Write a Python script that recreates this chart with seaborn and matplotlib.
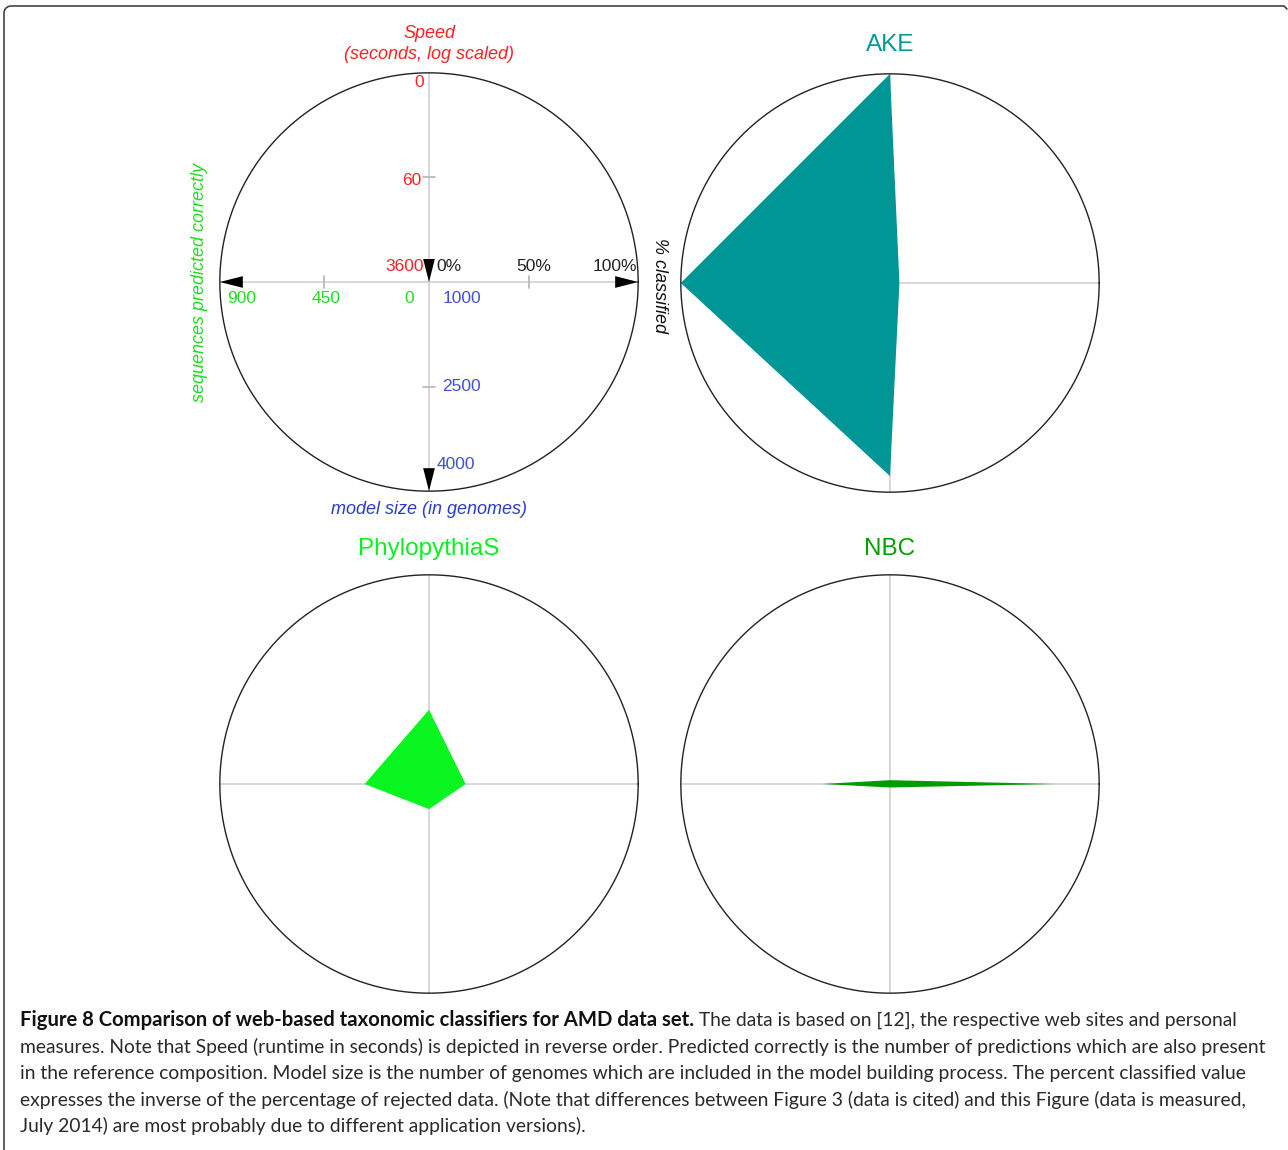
import numpy as np
import matplotlib
matplotlib.use('Agg')
import matplotlib.pyplot as plt
import seaborn as sns

# Werte
classifiers = ['AKE', 'PhylopythiaS', 'NBC']
speed_sec = [1, 197, 3100]            # Laufzeit in Sekunden (log, umgekehrt)
predicted_correct = [900, 277, 293]   # korrekt vorhergesagte Sequenzen
pct_classified = [4.5, 17.5, 79]      # % klassifiziert
model_size = [3770, 1360, 1050]       # Modellgroesse (Genome)

title_colors = ['#009999', '#0cf020', '#00a000']
fill_colors = ['#009696', '#08f520', '#009b00']

# Achsen-Skalen
speed_max = 3600
pred_max = 900
model_min, model_max = 1000, 4000

speed_ticks = ['0', '60', '3600']
pct_ticks = ['0%', '50%', '100%']
pred_ticks = ['900', '450', '0']
model_ticks = ['1000', '2500', '4000']

RED = '#ff2222'
GREEN = '#22dd22'
BLUE = '#4050d8'
GRID = '#d6d6d6'

sns.set_style('white')
plt.rcParams['font.family'] = ['Liberation Sans', 'DejaVu Sans']

W, H = 1288, 1150
fig = plt.figure(figsize=(W / 100, H / 100), dpi=100)

BOX = 502  # px, Achsenbox; Daten +-1.2 -> Radius ~209 px


def make_ax(cx, cy):
    ax = fig.add_axes([(cx - BOX / 2) / W, (H - cy - BOX / 2) / H, BOX / W, BOX / H])
    ax.set_xlim(-1.2, 1.2)
    ax.set_ylim(-1.2, 1.2)
    ax.set_aspect('equal')
    ax.axis('off')
    t = np.linspace(0, 2 * np.pi, 400)
    ax.plot([-1, 1], [0, 0], color=GRID, lw=1.3, zorder=1)
    ax.plot([0, 0], [-1, 1], color=GRID, lw=1.3, zorder=1)
    ax.plot(np.cos(t), np.sin(t), color='#222222', lw=1.0, zorder=3)
    return ax


def radii(i):
    r_speed = 1 - np.log10(speed_sec[i]) / np.log10(speed_max)
    r_pct = pct_classified[i] / 100
    r_model = max(model_size[i] - model_min, 0) / (model_max - model_min)
    r_pred = predicted_correct[i] / pred_max
    return r_speed, r_pct, r_model, r_pred


def tri(ax, tip, direction, length=0.11, half=0.028):
    x, y = tip
    if direction == 'down':
        xs, ys = [x, x - half, x + half], [y, y + length, y + length]
    elif direction == 'left':
        xs, ys = [x, x + length, x + length], [y, y - half, y + half]
    else:
        xs, ys = [x, x - length, x - length], [y, y - half, y + half]
    ax.fill(xs, ys, color='black', zorder=4, lw=0)


# Legende / Achsenerklaerung (oben links)
ax0 = make_ax(429, 282)
tri(ax0, (0, 0), 'down')
tri(ax0, (0, -1), 'down')
tri(ax0, (-1, 0), 'left')
tri(ax0, (1, 0), 'right')
# Tick-Striche
ax0.plot([-0.03, 0.03], [0.5, 0.5], color='#bbbbbb', lw=1.3, zorder=2)
ax0.plot([-0.03, 0.03], [-0.5, -0.5], color='#bbbbbb', lw=1.3, zorder=2)
ax0.plot([-0.5, -0.5], [-0.03, 0.03], color='#bbbbbb', lw=1.3, zorder=2)
ax0.plot([0.48, 0.48], [-0.03, 0.03], color='#bbbbbb', lw=1.3, zorder=2)

fs = 12.5
ax0.text(-0.025, 0.952, speed_ticks[0], color=RED, fontsize=fs, ha='right', va='center')
ax0.text(-0.035, 0.483, speed_ticks[1], color=RED, fontsize=fs, ha='right', va='center')
ax0.text(-0.025, 0.076, speed_ticks[2], color=RED, fontsize=fs, ha='right', va='center')
ax0.text(0.035, 0.076, pct_ticks[0], color='#222222', fontsize=fs, ha='left', va='center')
ax0.text(0.5, 0.076, pct_ticks[1], color='#222222', fontsize=fs, ha='center', va='center')
ax0.text(0.995, 0.076, pct_ticks[2], color='#222222', fontsize=fs, ha='right', va='center')
ax0.text(-0.895, -0.077, pred_ticks[0], color=GREEN, fontsize=fs, ha='center', va='center')
ax0.text(-0.494, -0.077, pred_ticks[1], color=GREEN, fontsize=fs, ha='center', va='center')
ax0.text(-0.096, -0.077, pred_ticks[2], color=GREEN, fontsize=fs, ha='center', va='center')
ax0.text(0.065, -0.077, model_ticks[0], color=BLUE, fontsize=fs, ha='left', va='center')
ax0.text(0.065, -0.498, model_ticks[1], color=BLUE, fontsize=fs, ha='left', va='center')
ax0.text(0.038, -0.871, model_ticks[2], color=BLUE, fontsize=fs, ha='left', va='center')

ax0.text(0, 1.19, 'Speed', color=RED, fontsize=13, style='italic', ha='center', va='center')
ax0.text(0, 1.088, '(seconds, log scaled)', color=RED, fontsize=13, style='italic',
         ha='center', va='center')
ax0.text(0, -1.09, 'model size (in genomes)', color='#2a3ccc', fontsize=13, style='italic',
         ha='center', va='center')
ax0.text(-1.096, 0.0, 'sequences predicted correctly', color=GREEN, fontsize=13,
         style='italic', rotation=90, ha='center', va='center')
ax0.text(1.10, -0.015, '% classified', color='#111111', fontsize=13, style='italic',
         rotation=-90, ha='center', va='center', rotation_mode='anchor')

# Klassifikatoren
centers = [(890, 283), (429, 784), (890, 784)]
title_y = [1.14, 1.122, 1.122]
for i, name in enumerate(classifiers):
    ax = make_ax(*centers[i])
    r_speed, r_pct, r_model, r_pred = radii(i)
    xs = [0, r_pct, 0, -r_pred]
    ys = [r_speed, 0, -r_model, 0]
    ax.fill(xs, ys, color=fill_colors[i], lw=0, zorder=2)
    ax.text(0, title_y[i], name, color=title_colors[i], fontsize=17.5, ha='center', va='center')

# Rahmen
t = np.linspace(np.pi, np.pi / 2, 12)
rc = 7
fx = np.concatenate([[4], 4 + rc + rc * np.cos(t), [1284, 1287]])
fy = np.concatenate([[H], 6 + rc - rc * np.sin(t), [6, 9]])
fig.add_artist(plt.Line2D(fx / W, 1 - fy / H, color='#444444', lw=1.2,
                          transform=fig.transFigure))

# Bildunterschrift
cap_font = ['Lato', 'DejaVu Sans']
cap_fs = 13.9
bold_part = 'Figure 8 Comparison of web-based taxonomic classifiers for AMD data set.'
lines = [
    ' The data is based on [12], the respective web sites and personal',
    'measures. Note that Speed (runtime in seconds) is depicted in reverse order. Predicted correctly is the number of predictions which are also present',
    'in the reference composition. Model size is the number of genomes which are included in the model building process. The percent classified value',
    'expresses the inverse of the percentage of rejected data. (Note that differences between Figure 3 (data is cited) and this Figure (data is measured,',
    'July 2014) are most probably due to different application versions).',
]
y0, dy = 1020, 26.5
tb = fig.text(20 / W, 1 - y0 / H, bold_part, fontsize=14.6, fontweight='bold',
              family=cap_font, va='center', ha='left', color='#111111')
fig.canvas.draw()
bb = tb.get_window_extent()
fig.text(bb.x1 / W, 1 - y0 / H, lines[0], fontsize=cap_fs, family=cap_font,
         va='center', ha='left', color='#2a2a2a')
for k, ln in enumerate(lines[1:], start=1):
    fig.text(20 / W, 1 - (y0 + k * dy) / H, ln, fontsize=cap_fs, family=cap_font,
             va='center', ha='left', color='#2a2a2a')

fig.savefig('out.png', dpi=100, facecolor='white')
